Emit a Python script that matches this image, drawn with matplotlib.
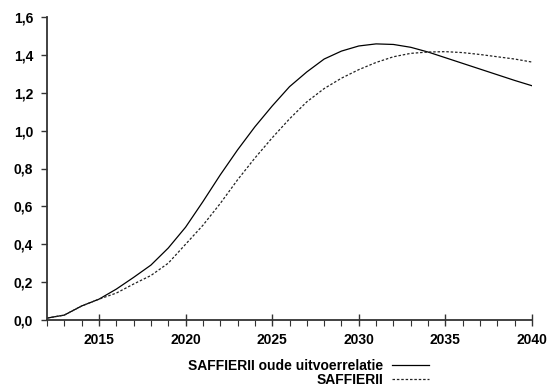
import matplotlib
matplotlib.use("Agg")
import matplotlib.pyplot as plt
from matplotlib.ticker import MultipleLocator, FuncFormatter

plt.rcParams['font.family'] = ['Liberation Sans', 'DejaVu Sans']
plt.rcParams['font.weight'] = 'bold'

years = list(range(2012, 2041))
oude = [0.01, 0.026, 0.074, 0.11, 0.163, 0.225, 0.29, 0.38, 0.49, 0.625, 0.766,
        0.898, 1.02, 1.13, 1.232, 1.31, 1.378, 1.42, 1.447, 1.458, 1.455, 1.44,
        1.415, 1.385, 1.355, 1.325, 1.295, 1.265, 1.237]
saffier = [0.01, 0.026, 0.074, 0.11, 0.142, 0.19, 0.235, 0.30, 0.40, 0.50, 0.615,
           0.74, 0.855, 0.962, 1.062, 1.152, 1.222, 1.277, 1.322, 1.36, 1.39, 1.408,
           1.415, 1.417, 1.412, 1.402, 1.39, 1.378, 1.362]
labels = ['SAFFIERII oude uitvoerrelatie', 'SAFFIERII']

fig = plt.figure(figsize=(5.52, 3.90), dpi=100)
ax = fig.add_axes([47/552, 1-320/390, (532-47)/552, (320-17)/390])

l1, = ax.plot(years, oude, color='black', lw=0.9)
l2, = ax.plot(years, saffier, color='#222222', lw=0.9, dashes=(2, 1.5))

ax.set_xlim(2012, 2040)
ax.set_ylim(0, 1.6)
ax.xaxis.set_major_locator(MultipleLocator(5))
ax.xaxis.set_minor_locator(MultipleLocator(1))
ax.yaxis.set_major_locator(MultipleLocator(0.2))
ax.yaxis.set_major_formatter(FuncFormatter(lambda v, p: f"{v:.1f}".replace('.', ',')))

for s in ['top', 'right']:
    ax.spines[s].set_visible(False)
for s in ['left', 'bottom']:
    ax.spines[s].set_color('#333333')
    ax.spines[s].set_linewidth(1.3)

ax.tick_params(axis='x', which='major', direction='inout', length=8, width=1, color='#333333', pad=5, labelsize=10)
ax.tick_params(axis='x', which='minor', direction='out', length=4, width=0.8, color='#333333')
ax.tick_params(axis='y', direction='out', length=4, width=1, color='#333333', pad=6, labelsize=10)
for t in ax.get_xticklabels() + ax.get_yticklabels():
    t.set_fontweight('bold')

fig.legend([l1, l2], labels, loc='upper right', bbox_to_anchor=(436/552, 1-352/390),
           frameon=False, markerfirst=False, handlelength=2.7, handletextpad=0.6,
           labelspacing=0.0, borderpad=0, prop={'size': 10, 'weight': 'bold'})

fig.savefig('out.png', dpi=100)
